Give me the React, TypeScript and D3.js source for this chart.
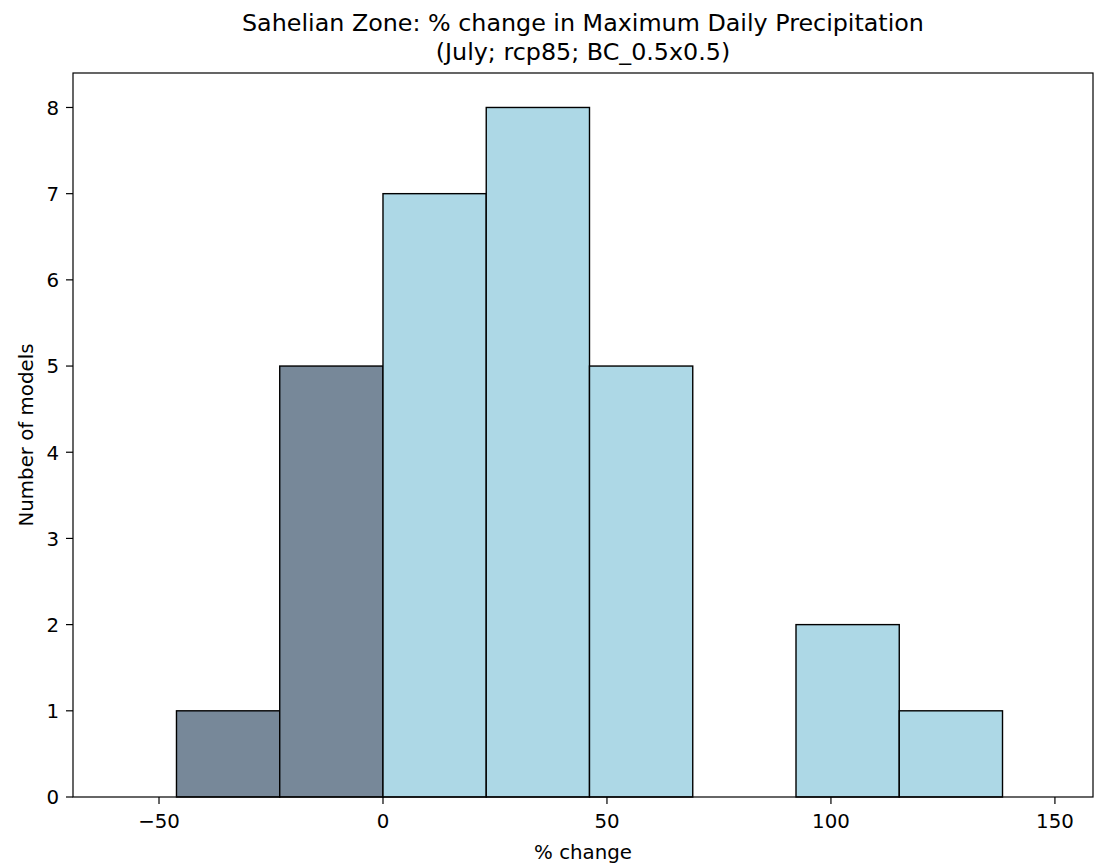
import React from "react";
import * as d3 from "d3";

const binEdges = [-46.1, -23.05, 0, 23.05, 46.1, 69.15, 92.2, 115.25, 138.3];
const binCounts = [1, 5, 7, 8, 5, 0, 2, 1];
const xTicks = [-50, 0, 50, 100, 150];
const yTicks = [0, 1, 2, 3, 4, 5, 6, 7, 8];
const titleLines = [
  "Sahelian Zone: % change in Maximum Daily Precipitation",
  "(July; rcp85; BC_0.5x0.5)",
];
const xLabel = "% change";
const yLabel = "Number of models";

const W = 1094;
const H = 867;
const left = 73;
const right = 1093;
const top = 73;
const bottom = 797;
const font = "DejaVu Sans, sans-serif";
const fs = 19.8;

export default function App() {
  const x = d3.scaleLinear().domain([-69.2, 158.5]).range([left, right]);
  const y = d3.scaleLinear().domain([0, 8.4]).range([bottom, top]);
  const fmt = (v: number) => (v < 0 ? "\u2212" + Math.abs(v) : String(v));
  const bins = binCounts.map((c, i) => ({ x0: binEdges[i], x1: binEdges[i + 1], c }));
  const cx = (left + right) / 2;
  return (
    <svg width={W} height={H} style={{ position: "absolute", left: 0, top: 0, background: "#fff" }}>
      <rect x={0} y={0} width={W} height={H} fill="#fff" />
      {bins.filter((b) => b.c > 0).map((b, i) => (
        <rect
          key={i}
          x={x(b.x0)}
          y={y(b.c)}
          width={x(b.x1) - x(b.x0)}
          height={y(0) - y(b.c)}
          fill={b.x1 <= 0 ? "#778899" : "#add8e6"}
          stroke="#000"
          strokeWidth={1.4}
        />
      ))}
      <rect x={left} y={top} width={right - left} height={bottom - top} fill="none" stroke="#000" strokeWidth={1.2} />
      {xTicks.map((t) => (
        <g key={t} transform={`translate(${x(t)},${bottom})`}>
          <line y1={0} y2={7} stroke="#000" strokeWidth={1.2} />
          <text y={31} textAnchor="middle" fontFamily={font} fontSize={fs} fill="#000">
            {fmt(t)}
          </text>
        </g>
      ))}
      {yTicks.map((t) => (
        <g key={t} transform={`translate(${left},${y(t)})`}>
          <line x1={-7} x2={0} stroke="#000" strokeWidth={1.2} />
          <text x={-14} dy="0.37em" textAnchor="end" fontFamily={font} fontSize={fs} fill="#000">
            {fmt(t)}
          </text>
        </g>
      ))}
      <text x={cx} y={859} textAnchor="middle" fontFamily={font} fontSize={fs} fill="#000">
        {xLabel}
      </text>
      <text
        transform={`translate(33,${(top + bottom) / 2}) rotate(-90)`}
        textAnchor="middle"
        fontFamily={font}
        fontSize={fs}
        fill="#000"
      >
        {yLabel}
      </text>
      {titleLines.map((l, i) => (
        <text key={i} x={cx} y={31 + i * 29} textAnchor="middle" fontFamily={font} fontSize={23.8} fill="#000">
          {l}
        </text>
      ))}
    </svg>
  );
}
